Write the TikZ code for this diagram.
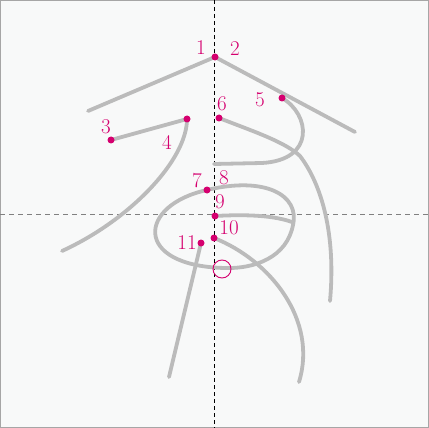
\documentclass[tikz,border=0pt]{standalone}
\usepackage{tikz}
\usetikzlibrary{positioning}
\definecolor{strokegray}{HTML}{BBBBBB}
\definecolor{ordermag}{HTML}{D5006F}
\definecolor{paper}{HTML}{F8F9F9}

\begin{document}
\begin{tikzpicture}[
        x=1pt, y=-1pt,
        kstroke/.style={draw=strokegray, line width=3.8pt, line cap=round, line join=round},
        startdot/.style={circle, fill=ordermag, inner sep=0pt, minimum size=7pt},
        num/.style={text=ordermag, font=\fontsize{21}{21}\selectfont, inner sep=0pt},
        guide/.style={line width=0.8pt},
    ]
    % ---- paper + guides ----
    \draw[draw=gray!70, fill=paper, line width=1pt] (0.5,0.5) rectangle (428.5,427.5);
    \useasboundingbox (0,0) rectangle (429,428);
    \coordinate (gtop) at (214,0);
    \coordinate (gbot) at (214,428);
    \coordinate (gleft) at (0,214);
    \coordinate (gright) at (429,214);
    \draw[guide, gray, dash pattern=on 5pt off 4pt] (gleft) -- (gright);
    \draw[guide, black, dash pattern=on 4pt off 3pt] (gtop) -- (gbot);

    % ---- start points ----
    \coordinate (p1) at (215,57);
    \coordinate (p3) at (111,140);
    \coordinate (p4) at (187,119);
    \coordinate (p5) at (282,98);
    \coordinate (p6) at (219,118);
    \coordinate (p7) at (207,190);
    \coordinate (p9) at (215,216);
    \coordinate (p10) at (214,238);
    \coordinate (p11) at (201,243);
    \coordinate (loopbot) at (225,268);

    % ---- strokes ----
    \draw[kstroke] (p1) -- (88,111);
    \draw[kstroke] (p1) -- (355,132);
    \draw[kstroke] (p3) -- (p4);
    \draw[kstroke] (p4) .. controls (187,160) and (130,220) .. (62,251);
    \draw[kstroke] (p5) .. controls (310,114) and (316,160) .. (262,163) -- (214,164);
    \draw[kstroke] (p6) .. controls (255,132) and (285,142) .. (300,156)
        .. controls (322,185) and (336,235) .. (330,301);
    \draw[kstroke] (p7) .. controls (138,205) and (132,266) .. (loopbot);
    \draw[kstroke] (p7) .. controls (265,176) and (300,195) .. (293,225)
        .. controls (287,257) and (255,269) .. (loopbot);
    \draw[kstroke] (p9) .. controls (250,214) and (275,216) .. (292,222);
    \draw[kstroke] (p10) .. controls (270,260) and (318,320) .. (299,382);
    \draw[kstroke] (p11) -- (169,377);

    % ---- order dots ----
    \foreach \p in {p1,p3,p4,p5,p6,p7,p9,p10,p11}
        \node[startdot] (d\p) at (\p) {};

    % ---- numbers ----
    \node[num] (n1) at (201,48) {1};
    \node[num] (n2) at (235,49) {2};
    \node[num] (n3) at (106,127) {3};
    \node[num] (n4) at (167,142) {4};
    \node[num] (n5) at (260,100) {5};
    \node[num] (n6) at (222,104) {6};
    \node[num] (n7) at (197,181) {7};
    \node[num] (n8) at (224,178) {8};
    \node[num] (n9) at (220,202) {9};
    \node[num] (n10) at (229,228) {10};
    \node[num] (n11) at (187,243) {11};

    % ---- meeting mark ----
    \node[draw=ordermag, circle, line width=0.9pt, minimum size=18pt, inner sep=0pt] (mark) at (222,269) {};
\end{tikzpicture}
\end{document}
